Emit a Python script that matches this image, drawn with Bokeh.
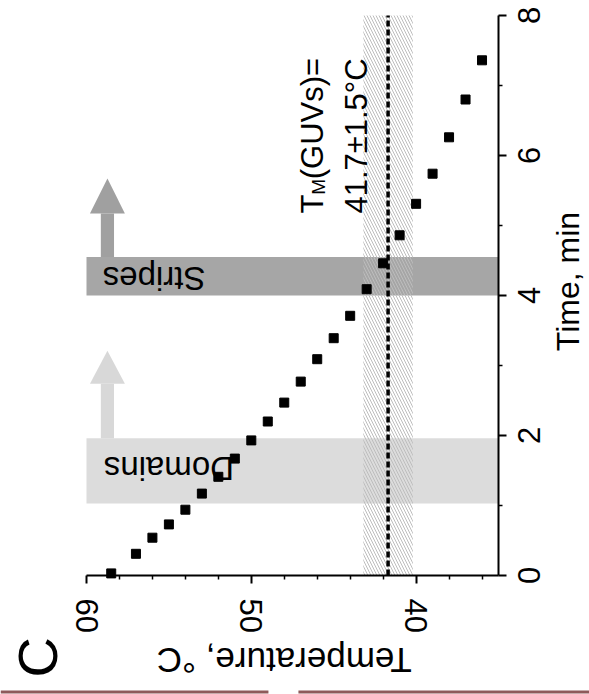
import math
from bokeh.plotting import figure
from bokeh.models import FixedTicker, BoxAnnotation, Label, Range1d, LinearAxis
from bokeh.core.properties import value
from bokeh.embed import file_html
from bokeh.resources import INLINE

# ---------------- data ----------------
time_min = [0.03, 0.31, 0.54, 0.73, 0.94, 1.17, 1.41, 1.67, 1.93, 2.20, 2.47, 2.77,
            3.09, 3.39, 3.71, 4.09, 4.46, 4.86, 5.31, 5.74, 6.26, 6.80, 7.36]
temperature_c = [58.5, 57.0, 56.0, 55.0, 54.0, 53.0, 52.0, 51.0, 50.0, 49.0, 48.0, 47.0,
                 46.0, 45.0, 44.0, 43.0, 42.0, 41.0, 40.0, 39.0, 38.0, 37.0, 36.0]
temp_ticks = [40, 50, 60]
temp_minor_ticks = [36, 38, 42, 44, 46, 48, 52, 54, 56, 58]
time_ticks = [0, 2, 4, 6, 8]
time_tick_labels = ["0", "2", "4", "6", "8"]
time_minor_ticks = [1, 3, 5, 7]
temp_bounds = (35, 60)
time_bounds = (0, 8)
tm_guvs = 41.7
tm_err = 1.5
domains_band = [1.03, 1.96]
stripes_band = [4.0, 4.55]
domains_arrow = [1.96, 2.74, 3.21]   # shaft start, head base, tip (min)
stripes_arrow = [4.55, 5.17, 5.67]
arrow_temp = 58.73

FONT = "Liberation Sans"
W, H = 589, 694
# plot-area geometry (pixels inside the canvas)
AX_LEFT, AX_RIGHT, AX_TOP, AX_BOTTOM = 86, 498, 15, 575
px_per_deg = (AX_RIGHT - AX_LEFT) / (temp_bounds[1] - temp_bounds[0])
px_per_min = (AX_BOTTOM - AX_TOP) / (time_bounds[1] - time_bounds[0])
x_range = Range1d(temp_bounds[1] + AX_LEFT / px_per_deg,
                  temp_bounds[0] - (W - AX_RIGHT) / px_per_deg)
y_range = Range1d(time_bounds[0] - (H - AX_BOTTOM) / px_per_min,
                  time_bounds[1] + AX_TOP / px_per_min)

p = figure(width=W, height=H, x_range=x_range, y_range=y_range,
           output_backend="svg", toolbar_location=None,
           x_axis_location=None, y_axis_location=None,
           min_border=0, min_border_left=0, min_border_right=0,
           min_border_top=0, min_border_bottom=0)
p.grid.visible = False
p.outline_line_color = None
p.background_fill_color = "white"
p.border_fill_color = "white"

xax = LinearAxis(fixed_location=time_bounds[0], bounds=temp_bounds,
                 ticker=FixedTicker(ticks=temp_ticks, minor_ticks=temp_minor_ticks))
yax = LinearAxis(fixed_location=temp_bounds[0], bounds=time_bounds,
                 ticker=FixedTicker(ticks=time_ticks, minor_ticks=time_minor_ticks))
for ax in (xax, yax):
    ax.major_label_text_font = FONT
    ax.major_label_text_font_size = "31px"
    ax.major_label_text_color = "black"
    ax.axis_line_width = 2
    ax.axis_line_color = "black"
    ax.major_tick_line_width = 2
    ax.major_tick_line_color = "black"
    ax.minor_tick_line_width = 1.5
    ax.minor_tick_line_color = "black"
    ax.major_tick_in = 0
    ax.major_tick_out = 8
    ax.minor_tick_in = 0
    ax.minor_tick_out = 4
xax.major_label_orientation = "vertical"
xax.major_label_standoff = 15
# time-axis numbers are drawn below, rotated like the rest of the figure
yax.major_label_overrides = {t: "" for t in time_ticks}
p.add_layout(xax, "below")
p.add_layout(yax, "right")

# bands
p.add_layout(BoxAnnotation(left=temp_bounds[0], right=temp_bounds[1],
                           bottom=domains_band[0], top=domains_band[1], fill_color="#dcdcdc",
                           fill_alpha=1, line_color=None, level="underlay"))
p.add_layout(BoxAnnotation(left=temp_bounds[0], right=temp_bounds[1],
                           bottom=stripes_band[0], top=stripes_band[1], fill_color="#a6a6a6",
                           fill_alpha=1, line_color=None, level="underlay"))
# hatched Tm range
p.add_layout(BoxAnnotation(left=tm_guvs - tm_err, right=tm_guvs + tm_err,
                           bottom=time_bounds[0], top=time_bounds[1], fill_alpha=0,
                           line_color=None, hatch_pattern="\\", hatch_color="#bdbdbd",
                           hatch_weight=1, hatch_scale=6, level="underlay"))

# arrows
shaft_hw = 0.40
head_hw = 1.06
for arr, col in ((domains_arrow, "#d8d8d8"), (stripes_arrow, "#a0a0a0")):
    p.quad(left=[arrow_temp + shaft_hw], right=[arrow_temp - shaft_hw], bottom=[arr[0]],
           top=[arr[1]], fill_color=col, line_color=None)
    p.patch([arrow_temp + head_hw, arrow_temp - head_hw, arrow_temp],
            [arr[1], arr[1], arr[2]], fill_color=col, line_color=None)

# Tm dashed line
p.line([tm_guvs, tm_guvs], list(time_bounds), line_color="black", line_width=3.5,
       line_dash="6 3")

# data points
p.scatter(temperature_c, time_min, marker="square", size=9, color="black")

# time-axis tick labels (rotated, centred on their ticks)
p.text(x=[temp_bounds[0]] * len(time_ticks), y=time_ticks, text=time_tick_labels,
       angle=math.pi / 2, x_offset=30, text_font=value(FONT),
       text_font_size=value("31px"), text_align="center", text_baseline="middle",
       text_color="black")

# thin rule at the bottom edge of the crop
p.segment(x0=[x_range.start, 47.14], x1=[48.96, x_range.end], y0=[-1.664, -1.664],
          y1=[-1.664, -1.664], line_color="#8e5a5a", line_width=3)


def lab(text, x, y, angle, size, align="center", baseline="middle"):
    p.add_layout(Label(text=text, x=x, y=y, angle=angle, text_font=FONT,
                       text_font_size=size, text_align=align, text_baseline=baseline,
                       text_color="black"))


lab("Domains", 55.0, 1.53, math.pi, "33px")
lab("Stripes", 55.9, 4.25, math.pi, "33px")
lab("Temperature, °C", 48.0, -1.21, math.pi, "35px")
lab("Time, min", 30.78, 4.2, math.pi / 2, "32px")
lab("C", 63.0, -1.17, math.pi / 2, "56px")

# T_M(GUVs)= 41.7±1.5°C
lab("T", 46.3, 5.17, math.pi / 2, "31px", align="left", baseline="alphabetic")
lab("M", 45.94, 5.44, math.pi / 2, "19px", align="left", baseline="alphabetic")
lab("(GUVs)=", 46.3, 5.66, math.pi / 2, "31px", align="left", baseline="alphabetic")
lab("41.7±1.5°C", 43.64, 5.17, math.pi / 2, "31px", align="left", baseline="alphabetic")

open("out.html", "w").write(file_html(p, INLINE))
